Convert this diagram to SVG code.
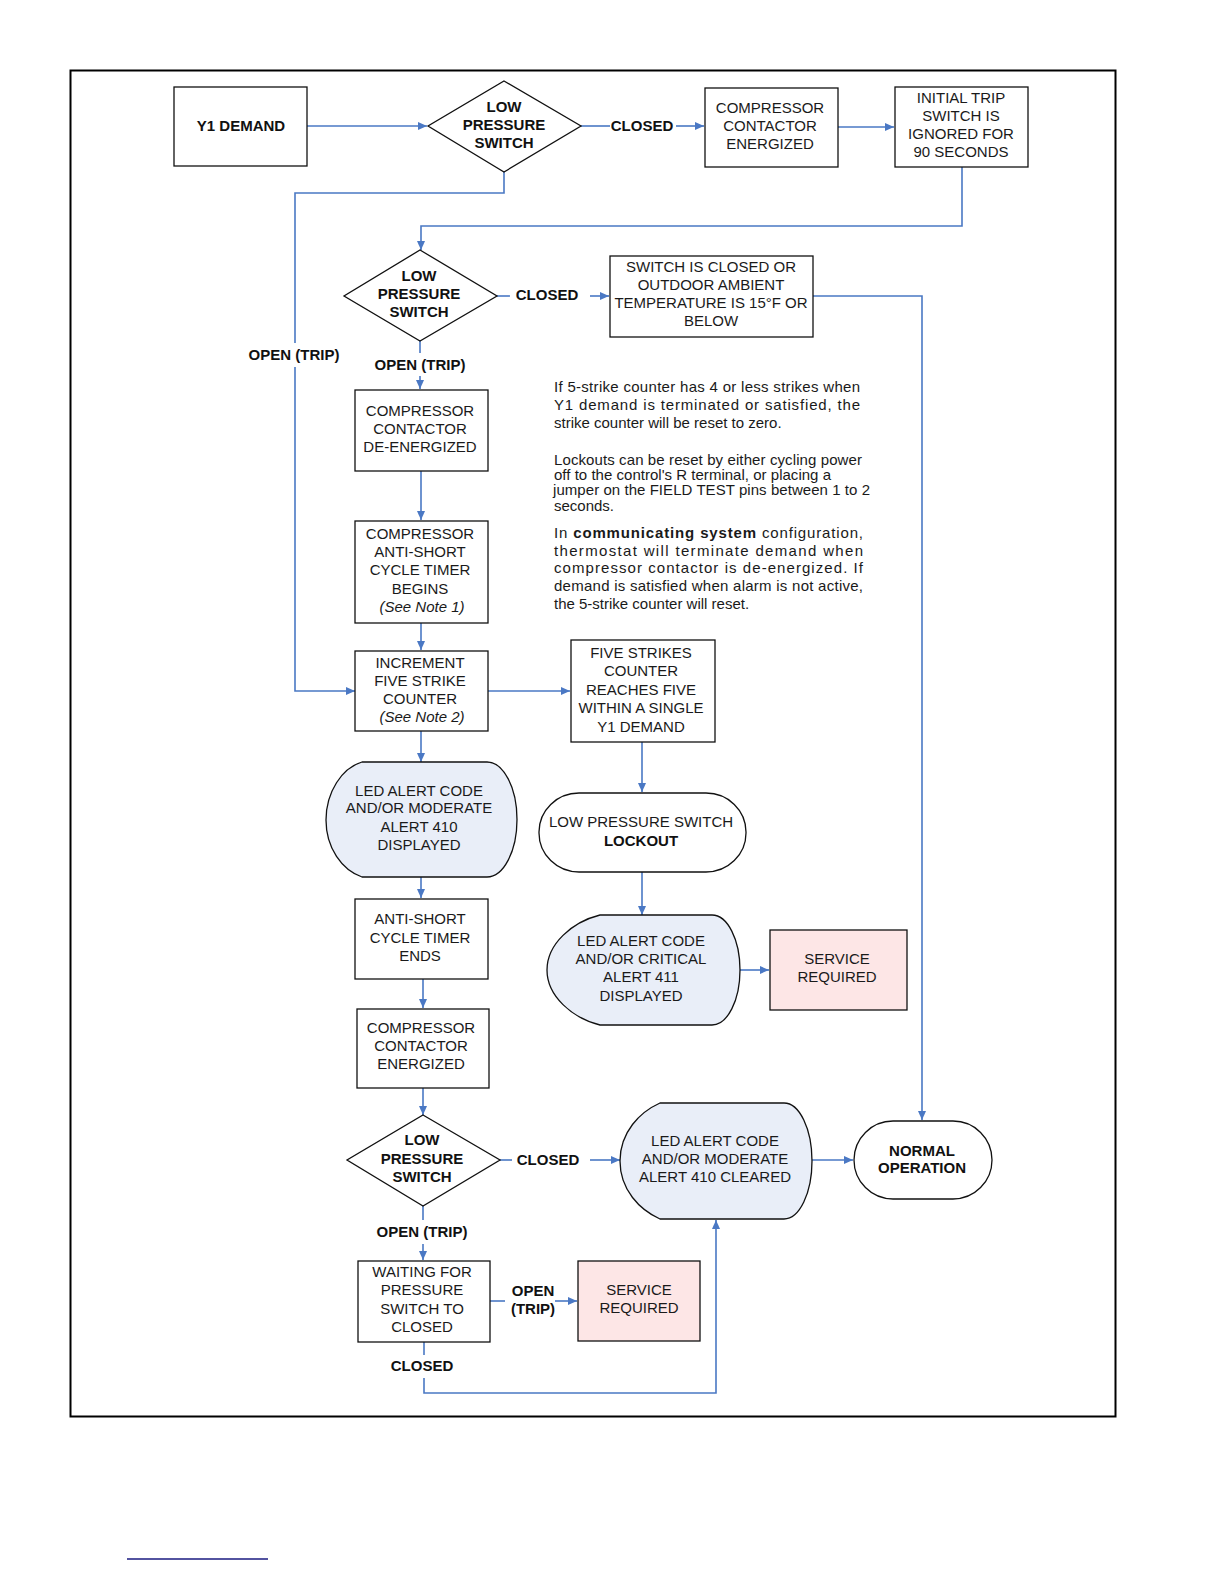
<svg xmlns="http://www.w3.org/2000/svg" width="1224" height="1584" viewBox="0 0 1224 1584">
<defs>
<style>
.n{fill:#fff;stroke:#111;stroke-width:1.3}
.led{fill:#e9eef8;stroke:#111;stroke-width:1.3}
.svc{fill:#fde6e6;stroke:#111;stroke-width:1.3}
.t{font-family:"Liberation Sans",Arial,sans-serif;font-size:15px;fill:#1a1a1a;text-anchor:middle}
.b{font-family:"Liberation Sans",Arial,sans-serif;font-size:15px;font-weight:bold;fill:#111;text-anchor:middle}
.i{font-style:italic}
.note{font-family:"Liberation Sans",Arial,sans-serif;font-size:15px;fill:#1a1a1a}
.c{fill:none;stroke:#4a78c4;stroke-width:1.6}
</style>
<marker id="ah" markerWidth="10" markerHeight="10" refX="9" refY="5" orient="auto" markerUnits="userSpaceOnUse">
<path d="M0,1 L9,5 L0,9 Z" fill="#4a78c4"/>
</marker>
</defs>
<rect width="1224" height="1584" fill="#fff"/>
<rect x="70.5" y="70.5" width="1045" height="1346" fill="none" stroke="#000" stroke-width="2"/>
<line x1="127" y1="1559" x2="268" y2="1559" stroke="#1a1a80" stroke-width="1.5"/>

<g id="connectors">
<path class="c" d="M307,126 H427" marker-end="url(#ah)"/>
<path class="c" d="M581,126 H610"/>
<path class="c" d="M676,126 H704" marker-end="url(#ah)"/>
<path class="c" d="M838,127 H894" marker-end="url(#ah)"/>
<path class="c" d="M962,167 V226 H421 V250" marker-end="url(#ah)"/>
<path class="c" d="M504,172 V193 H295 V343"/>
<path class="c" d="M295,367 V691 H355" marker-end="url(#ah)"/>
<path class="c" d="M497,296 H510"/>
<path class="c" d="M590,296 H609" marker-end="url(#ah)"/>
<path class="c" d="M813,296 H922 V1120" marker-end="url(#ah)"/>
<path class="c" d="M420,341 V353"/>
<path class="c" d="M420,376 V389" marker-end="url(#ah)"/>
<path class="c" d="M421,471 V520" marker-end="url(#ah)"/>
<path class="c" d="M421,623 V650" marker-end="url(#ah)"/>
<path class="c" d="M488,691 H570" marker-end="url(#ah)"/>
<path class="c" d="M421,731 V762" marker-end="url(#ah)"/>
<path class="c" d="M642,742 V792" marker-end="url(#ah)"/>
<path class="c" d="M642,872 V915" marker-end="url(#ah)"/>
<path class="c" d="M740,970 H769" marker-end="url(#ah)"/>
<path class="c" d="M421,877 V898" marker-end="url(#ah)"/>
<path class="c" d="M423,979 V1008" marker-end="url(#ah)"/>
<path class="c" d="M423,1088 V1115" marker-end="url(#ah)"/>
<path class="c" d="M500,1160 H512"/>
<path class="c" d="M590,1160 H620" marker-end="url(#ah)"/>
<path class="c" d="M812,1160 H853" marker-end="url(#ah)"/>
<path class="c" d="M423,1206 V1220"/>
<path class="c" d="M423,1244 V1260" marker-end="url(#ah)"/>
<path class="c" d="M490,1301 H505"/>
<path class="c" d="M555,1301 H577" marker-end="url(#ah)"/>
<path class="c" d="M424,1342 V1355"/>
<path class="c" d="M424,1378 V1393 H716 V1220" marker-end="url(#ah)"/>
</g>

<g id="labels">
<text class="b" x="642" y="131">CLOSED</text>
<text class="b" x="547" y="300">CLOSED</text>
<text class="b" x="294" y="360">OPEN (TRIP)</text>
<text class="b" x="420" y="370">OPEN (TRIP)</text>
<text class="b" x="548" y="1165">CLOSED</text>
<text class="b" x="422" y="1237">OPEN (TRIP)</text>
<text class="b" x="533" y="1296">OPEN</text>
<text class="b" x="533" y="1314">(TRIP)</text>
<text class="b" x="422" y="1371">CLOSED</text>
</g>

<g id="y1demand">
<rect class="n" x="174" y="87" width="133" height="79"/>
<text class="b" x="241" y="131">Y1 DEMAND</text>
</g>

<g id="lps1">
<polygon class="n" points="504,81 581,126 504,172 428,126"/>
<text class="b" x="504" y="112">LOW</text>
<text class="b" x="504" y="130">PRESSURE</text>
<text class="b" x="504" y="148">SWITCH</text>
</g>

<g id="cce1">
<rect class="n" x="705" y="88" width="133" height="79"/>
<text class="t" x="770" y="113">COMPRESSOR</text>
<text class="t" x="770" y="131">CONTACTOR</text>
<text class="t" x="770" y="149">ENERGIZED</text>
</g>

<g id="initialtrip">
<rect class="n" x="895" y="87" width="133" height="80"/>
<text class="t" x="961" y="103">INITIAL TRIP</text>
<text class="t" x="961" y="121">SWITCH IS</text>
<text class="t" x="961" y="139">IGNORED FOR</text>
<text class="t" x="961" y="157">90 SECONDS</text>
</g>

<g id="lps2">
<polygon class="n" points="420,250 497,296 420,341 344,296"/>
<text class="b" x="419" y="281">LOW</text>
<text class="b" x="419" y="299">PRESSURE</text>
<text class="b" x="419" y="317">SWITCH</text>
</g>

<g id="switchclosed">
<rect class="n" x="610" y="256" width="203" height="81"/>
<text class="t" x="711" y="272">SWITCH IS CLOSED OR</text>
<text class="t" x="711" y="290">OUTDOOR AMBIENT</text>
<text class="t" x="711" y="308">TEMPERATURE IS 15°F OR</text>
<text class="t" x="711" y="326">BELOW</text>
</g>

<g id="notes">
<text class="note" x="554" y="392" textLength="306" lengthAdjust="spacing">If 5-strike counter has 4 or less strikes when</text>
<text class="note" x="554" y="410" textLength="306" lengthAdjust="spacing">Y1 demand is terminated or satisfied, the</text>
<text class="note" x="554" y="428">strike counter will be reset to zero.</text>
<text class="note" x="554" y="465" textLength="308" lengthAdjust="spacing">Lockouts can be reset  by either cycling power</text>
<text class="note" x="554" y="480" textLength="277" lengthAdjust="spacing">off to the control's R terminal, or placing a</text>
<text class="note" x="553" y="495" textLength="317" lengthAdjust="spacing">jumper on the FIELD TEST pins between 1 to 2</text>
<text class="note" x="554" y="511">seconds.</text>
<text class="note" x="554" y="538" textLength="309" lengthAdjust="spacing">In <tspan font-weight="bold">communicating system</tspan> configuration,</text>
<text class="note" x="554" y="556" textLength="309" lengthAdjust="spacing">thermostat will terminate demand when</text>
<text class="note" x="554" y="573" textLength="309" lengthAdjust="spacing">compressor contactor is de-energized. If</text>
<text class="note" x="554" y="591" textLength="309" lengthAdjust="spacing">demand is satisfied when alarm is not active,</text>
<text class="note" x="554" y="609">the 5-strike counter will reset.</text>
</g>

<g id="deenergized">
<rect class="n" x="355" y="390" width="133" height="81"/>
<text class="t" x="420" y="416">COMPRESSOR</text>
<text class="t" x="420" y="434">CONTACTOR</text>
<text class="t" x="420" y="452">DE-ENERGIZED</text>
</g>

<g id="asctbegins">
<rect class="n" x="355" y="521" width="133" height="102"/>
<text class="t" x="420" y="539">COMPRESSOR</text>
<text class="t" x="420" y="557">ANTI-SHORT</text>
<text class="t" x="420" y="575">CYCLE TIMER</text>
<text class="t" x="420" y="594">BEGINS</text>
<text class="t i" x="422" y="612">(See Note 1)</text>
</g>

<g id="increment">
<rect class="n" x="355" y="651" width="133" height="80"/>
<text class="t" x="420" y="668">INCREMENT</text>
<text class="t" x="420" y="686">FIVE STRIKE</text>
<text class="t" x="420" y="704">COUNTER</text>
<text class="t i" x="422" y="722">(See Note 2)</text>
</g>

<g id="fivestrikes">
<rect class="n" x="571" y="640" width="144" height="102"/>
<text class="t" x="641" y="658">FIVE STRIKES</text>
<text class="t" x="641" y="676">COUNTER</text>
<text class="t" x="641" y="695">REACHES FIVE</text>
<text class="t" x="641" y="713">WITHIN A SINGLE</text>
<text class="t" x="641" y="732">Y1 DEMAND</text>
</g>

<g id="led410">
<path class="led" d="M362,762 H487 A30,57.5 0 0 1 487,877 H362 C342,870 326,848 326,820 C326,792 342,768 362,762 Z"/>
<text class="t" x="419" y="796">LED ALERT CODE</text>
<text class="t" x="419" y="813">AND/OR MODERATE</text>
<text class="t" x="419" y="832">ALERT 410</text>
<text class="t" x="419" y="850">DISPLAYED</text>
</g>

<g id="lockout">
<rect class="n" x="539" y="793" width="207" height="79" rx="40" ry="39"/>
<text class="t" x="641" y="827">LOW PRESSURE SWITCH</text>
<text class="b" x="641" y="846">LOCKOUT</text>
</g>

<g id="led411">
<path class="led" d="M600,915 H712 A28,55 0 0 1 712,1025 H600 C572,1018 547,996 547,970 C547,944 572,922 600,915 Z"/>
<text class="t" x="641" y="946">LED ALERT CODE</text>
<text class="t" x="641" y="964">AND/OR CRITICAL</text>
<text class="t" x="641" y="982">ALERT 411</text>
<text class="t" x="641" y="1001">DISPLAYED</text>
</g>

<g id="service1">
<rect class="svc" x="770" y="930" width="137" height="80"/>
<text class="t" x="837" y="964">SERVICE</text>
<text class="t" x="837" y="982">REQUIRED</text>
</g>

<g id="asctends">
<rect class="n" x="355" y="899" width="133" height="80"/>
<text class="t" x="420" y="924">ANTI-SHORT</text>
<text class="t" x="420" y="943">CYCLE TIMER</text>
<text class="t" x="420" y="961">ENDS</text>
</g>

<g id="cce2">
<rect class="n" x="357" y="1009" width="132" height="79"/>
<text class="t" x="421" y="1033">COMPRESSOR</text>
<text class="t" x="421" y="1051">CONTACTOR</text>
<text class="t" x="421" y="1069">ENERGIZED</text>
</g>

<g id="lps3">
<polygon class="n" points="423,1115 500,1160 423,1206 347,1160"/>
<text class="b" x="422" y="1145">LOW</text>
<text class="b" x="422" y="1164">PRESSURE</text>
<text class="b" x="422" y="1182">SWITCH</text>
</g>

<g id="ledcleared">
<path class="led" d="M660,1103 H784 A28,58 0 0 1 784,1219 H660 C640,1210 620,1190 620,1161 C620,1132 640,1112 660,1103 Z"/>
<text class="t" x="715" y="1146">LED ALERT CODE</text>
<text class="t" x="715" y="1164">AND/OR MODERATE</text>
<text class="t" x="715" y="1182">ALERT 410 CLEARED</text>
</g>

<g id="normal">
<rect class="n" x="854" y="1121" width="138" height="78" rx="39" ry="39"/>
<text class="b" x="922" y="1156">NORMAL</text>
<text class="b" x="922" y="1173">OPERATION</text>
</g>

<g id="waiting">
<rect class="n" x="358" y="1261" width="132" height="81"/>
<text class="t" x="422" y="1277">WAITING FOR</text>
<text class="t" x="422" y="1295">PRESSURE</text>
<text class="t" x="422" y="1314">SWITCH TO</text>
<text class="t" x="422" y="1332">CLOSED</text>
</g>

<g id="service2">
<rect class="svc" x="578" y="1261" width="122" height="80"/>
<text class="t" x="639" y="1295">SERVICE</text>
<text class="t" x="639" y="1313">REQUIRED</text>
</g>
</svg>
